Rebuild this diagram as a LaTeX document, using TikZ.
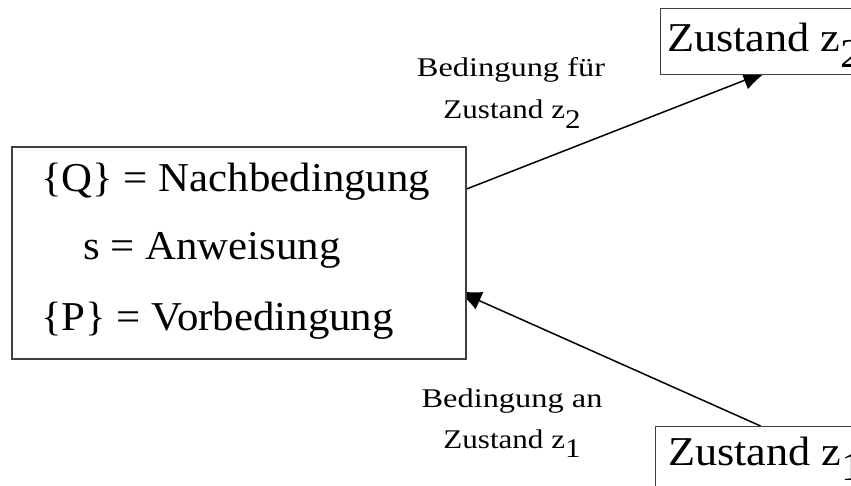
\documentclass[tikz,border=0pt]{standalone}
\usepackage{fontspec}
\setmainfont{Liberation Serif}
\usetikzlibrary{arrows.meta,calc}
\pgfdeclarelayer{behind}
\pgfsetlayers{behind,main}
% index set as a full-size digit, lowered
\newcommand\lowidx[1]{\raisebox{-0.37em}{#1}}
\begin{document}
\begin{tikzpicture}[x=1pt,y=-1pt,
  box/.style={draw=black!75,fill=white,line width=1.2pt,inner sep=0pt},
  big/.style={inner sep=0pt,anchor=base west,font=\fontsize{41}{41}\selectfont},
  lbl/.style={inner sep=0pt,anchor=base,font=\fontsize{27}{27}\selectfont},
  conn/.style={line width=1.5pt,-{Latex[length=24pt,width=19pt]},shorten >=-10pt}]
\useasboundingbox (0,0) rectangle (851,486);
\clip (0,0) rectangle (851,486);

% central box with the three lines
\node[box,minimum width=454pt,minimum height=212pt] (main) at (239,253) {};
\node[big] (q) at (41,192) {\scalebox{1.045}[1]{\{Q\} = Nachbedingung}};
\node[big] (s) at (83,260) {\scalebox{1.045}[1]{s = Anweisung}};
\node[big] (p) at (41,330) {\scalebox{1.045}[1]{\{P\} = Vorbedingung}};

% state boxes, running off the right edge
\node[box,anchor=north west,minimum width=194pt,minimum height=66pt] (z2) at (660,8) {};
\node[big] (z2t) at (667,52) {\scalebox{1.08}[1]{Zustand z\lowidx{2}}};
\node[box,anchor=north west,minimum width=210pt,minimum height=90pt] (z1) at (655,426) {};
\node[big] (z1t) at (668,465) {\scalebox{1.08}[1]{Zustand z\lowidx{1}}};

% connector labels
\node[lbl] (l2a) at (511,77) {\scalebox{1.2}[1]{Bedingung für}};
\node[lbl] (l2b) at (512,119) {\scalebox{1.15}[1]{Zustand z\lowidx{2}}};
\node[lbl] (l1a) at (512,407) {\scalebox{1.2}[1]{Bedingung an}};
\node[lbl] (l1b) at (512,448) {\scalebox{1.15}[1]{Zustand z\lowidx{1}}};

% white sheet and connectors, tips tucked under the boxes
\begin{pgfonlayer}{behind}
\fill[white] (0,0) rectangle (851,486);
\draw[conn] ([yshift=64pt]main.east) -- (z2.south);
\draw[conn] (z1.north) -- ([yshift=-42pt]main.east);
\end{pgfonlayer}
\end{tikzpicture}
\end{document}
